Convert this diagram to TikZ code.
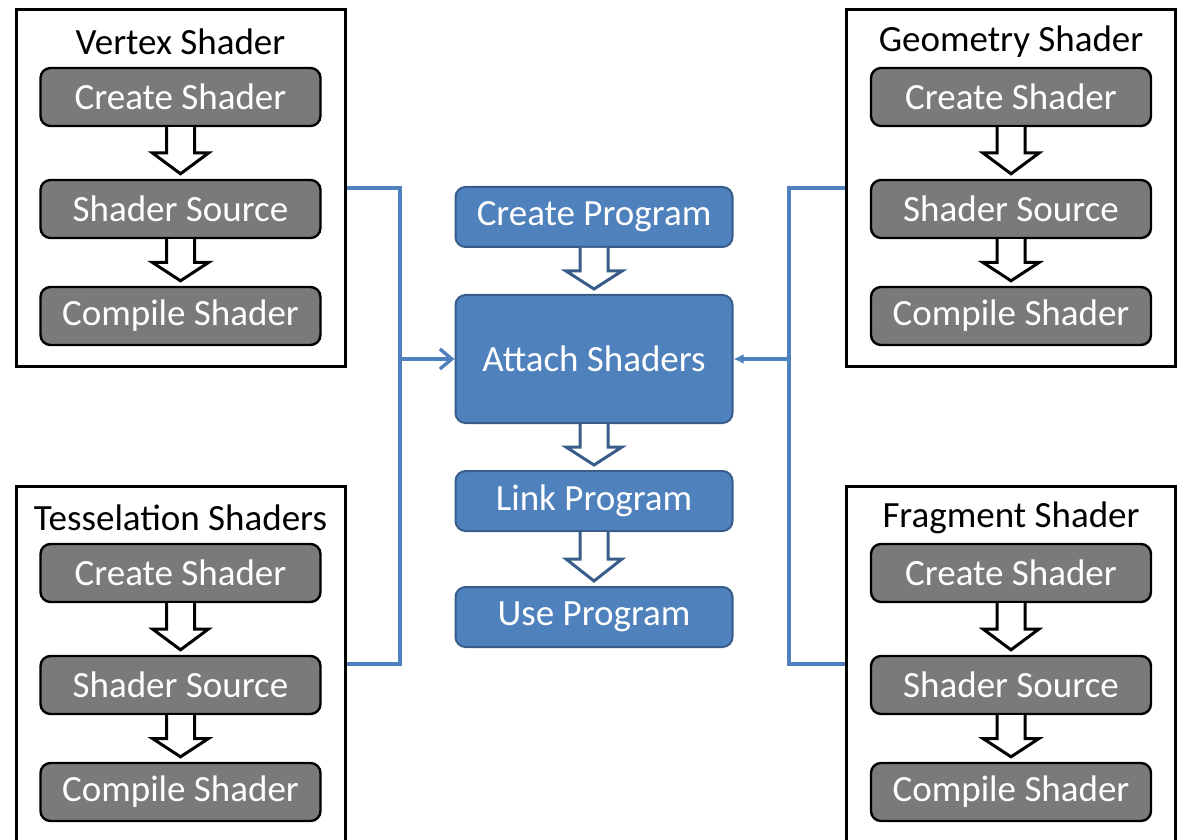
\documentclass[tikz,border=0pt]{standalone}
\usepackage{fontspec}
\setmainfont{Carlito}
\usetikzlibrary{positioning,calc,arrows.meta}

\definecolor{progBlue}{RGB}{79,129,189}
\definecolor{progEdge}{RGB}{56,93,138}
\definecolor{stepGray}{RGB}{122,122,122}

\tikzset{
    frame/.style={draw=black, line width=1.5pt, minimum width=164.5pt, minimum height=178pt},
    frametitle/.style={font=\fontsize{18.5}{21}\selectfont, inner sep=0pt},
    shaderstep/.style={draw=black, line width=1.2pt, fill=stepGray, rounded corners=5pt,
        minimum width=140pt, minimum height=29pt, text=white, font=\fontsize{18.5}{21}\selectfont},
    progstep/.style={draw=progEdge, line width=1pt, fill=progBlue, rounded corners=5pt,
        minimum width=138.5pt, minimum height=30pt, text=white, font=\fontsize{18.5}{21}\selectfont},
    attachline/.style={draw=progBlue, line width=1.7pt},
}

% hollow block arrow from the bottom of #2 down to the top of #3
\newcommand{\blockdown}[3]{%
    \draw[#1, fill=white, line join=miter]
        ($(#2.south)+(-14,0)$) -- ($(#2.south)!.5!(#3.north)+(-14,0)$)
        -- ($(#2.south)!.5!(#3.north)+(-28,0)$) -- ($(#3.north)+(0,-5)$)
        -- ($(#2.south)!.5!(#3.north)+(28,0)$) -- ($(#2.south)!.5!(#3.north)+(14,0)$)
        -- ($(#2.south)+(14,0)$);
}

\begin{document}
\begin{tikzpicture}[x=0.5pt,y=-0.5pt]
    \useasboundingbox (0,0) rectangle (1181,839);
    \clip (0,0) rectangle (1181,839);

    % the four shader stages
    \foreach \name/\cx/\cy/\title in {vs/180.5/188/Vertex Shader, ts/180.5/664/Tesselation Shaders,
                                       gs/1011/188/Geometry Shader, fs/1011/664/Fragment Shader}{
        \node[frame] (\name Frame) at (\cx,\cy) {};
        \node[frametitle] (\name Title) at (\cx,\cy-146) {\title};
        \node[shaderstep] (\name Create) at (\cx,\cy-91) {Create Shader};
        \node[shaderstep] (\name Source) at (\cx,\cy+21) {Shader Source};
        \node[shaderstep] (\name Compile) at (\cx,\cy+128) {Compile Shader};
        \blockdown{black, line width=1.5pt}{\name Create}{\name Source}
        \blockdown{black, line width=1.5pt}{\name Source}{\name Compile}
    }

    % program pipeline
    \node[progstep] (create) at (594,217) {Create Program};
    \node[progstep, minimum height=64pt] (attach) at (594,359) {Attach Shaders};
    \node[progstep] (linkProg) at (594,501) {Link Program};
    \node[progstep] (useProg) at (594,617) {Use Program};

    \blockdown{progEdge, line width=1.5pt}{create}{attach}
    \blockdown{progEdge, line width=1.5pt}{attach}{linkProg}
    \blockdown{progEdge, line width=1.5pt}{linkProg}{useProg}

    % shaders attached from both sides
    \coordinate (leftJoin) at (400,359);
    \coordinate (rightJoin) at (789,359);
    \draw[attachline] (vsFrame.east) -| (leftJoin);
    \draw[attachline] (tsFrame.east) -| (leftJoin);
    \draw[attachline] (gsFrame.west) -| (rightJoin);
    \draw[attachline] (fsFrame.west) -| (rightJoin);
    \draw[attachline, -{Straight Barb[length=6pt,width=10pt]}] (leftJoin) -- (attach.west);
    \draw[attachline, -{Latex[length=5pt,width=5pt]}] (rightJoin) -- (attach.east);
\end{tikzpicture}
\end{document}
